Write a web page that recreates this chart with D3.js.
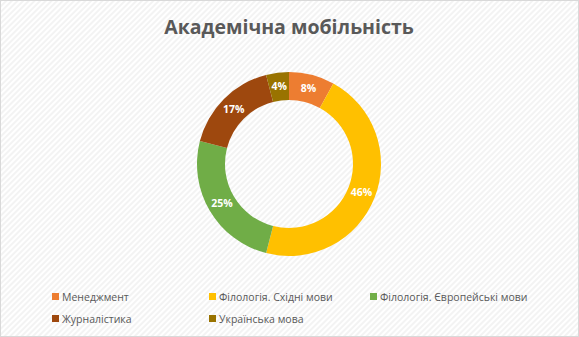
<!DOCTYPE html>
<html><head><meta charset="utf-8">
<script src="https://cdn.jsdelivr.net/npm/d3@7"></script>
<style>html,body{margin:0;padding:0;background:#fff;}svg{display:block;}</style>
</head><body>
<script>
const categories = ["Менеджмент", "Філологія. Східні мови", "Філологія. Європейські мови", "Журналістика", "Українська мова"];
const values = [8, 46, 25, 17, 4];
const colors = ["#ED7D31", "#FFC000", "#70AD47", "#9E480E", "#997300"];
const title = "Академічна мобільність";

const W = 579, H = 337;
const svg = d3.select("body").append("svg").attr("width", W).attr("height", H);
const defs = svg.append("defs");
const pat = defs.append("pattern").attr("id", "diag").attr("patternUnits", "userSpaceOnUse")
  .attr("width", 4).attr("height", 4).attr("patternTransform", "rotate(45)");
pat.append("rect").attr("width", 4).attr("height", 4).attr("fill", "#ffffff");
pat.append("rect").attr("width", 2).attr("height", 4).attr("fill", "#f3f3f3");
svg.append("rect").attr("x", 0.5).attr("y", 0.5).attr("width", W - 1).attr("height", H - 1)
  .attr("fill", "url(#diag)").attr("stroke", "#d9d9d9");

svg.append("text").attr("x", 289).attr("y", 34).attr("text-anchor", "middle")
  .attr("font-family", "'Open Sans', 'Liberation Sans', sans-serif").attr("font-weight", "bold")
  .attr("font-size", 19.5).attr("fill", "#595959").text(title);

const cx = 289, cy = 164, rOut = 92, rIn = 64;
const pie = d3.pie().sort(null).value(d => d)(values);
const arc = d3.arc().innerRadius(rIn).outerRadius(rOut);
const g = svg.append("g").attr("transform", `translate(${cx},${cy})`);
g.selectAll("path").data(pie).join("path").attr("d", arc).attr("fill", (d, i) => colors[i]);
const labArc = d3.arc().innerRadius((rIn + rOut) / 2).outerRadius((rIn + rOut) / 2);
g.selectAll("text").data(pie).join("text")
  .attr("transform", d => `translate(${labArc.centroid(d)})`)
  .attr("text-anchor", "middle").attr("dy", "0.35em")
  .attr("font-family", "'Open Sans', 'Liberation Sans', sans-serif").attr("font-weight", "bold")
  .attr("font-size", 10.5).attr("fill", "#ffffff").text(d => d.value + "%");

const legX = [52, 209, 370];
const legY = [297, 319];
const lg = svg.append("g");
categories.forEach((c, i) => {
  const x = legX[i % 3], y = legY[Math.floor(i / 3)];
  lg.append("rect").attr("x", x).attr("y", y - 4).attr("width", 7).attr("height", 7).attr("fill", colors[i]);
  lg.append("text").attr("x", x + 10).attr("y", y).attr("dy", "0.35em")
    .attr("font-family", "'Open Sans', 'Liberation Sans', sans-serif").attr("font-size", 10.5)
    .attr("fill", "#595959").text(c);
});
</script>
</body></html>
